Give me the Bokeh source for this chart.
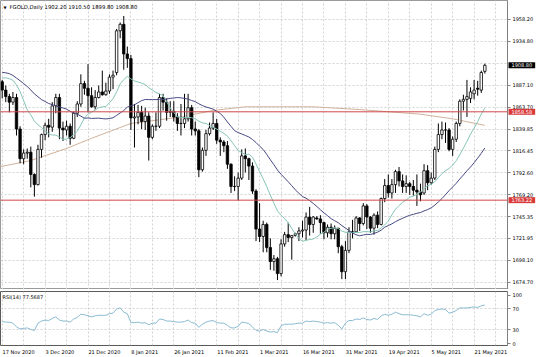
from bokeh.plotting import figure
from bokeh.models import Range1d, FixedTicker, Label, Span, ColumnDataSource, PrintfTickFormatter
from bokeh.layouts import column
from bokeh.embed import file_html
from bokeh.resources import INLINE

# ---------------- data ----------------
title_text = "FGOLD,Daily  1902.20 1910.50 1899.80 1908.80"
rsi_title = "RSI(14) 77.5687"

opens = [1891,1882,1875,1869,1874,1840,1808,1814,1815,1791,1780,1818,1834,1844,1842,1865,1874,1841,1839,1843,
         1830,1857,1867,1889,1884,1876,1864,1874,1880,1877,1881,1896,1901,1946,1953,1921,1916,1852,1853,1858,
         1848,1854,1831,1843,1843,1874,1869,1858,1859,1853,1846,1846,1851,1863,1840,1838,1796,1817,1835,1841,
         1846,1828,1826,1822,1802,1778,1778,1787,1811,1808,1800,1773,1732,1724,1737,1712,1697,1700,1684,1716,
         1726,1723,1725,1727,1730,1731,1745,1737,1744,1743,1739,1728,1734,1727,1733,1713,1686,1709,1729,1729,
         1744,1738,1757,1745,1733,1747,1737,1765,1779,1771,1780,1794,1784,1778,1781,1778,1774,1772,1771,1795,
         1782,1787,1818,1834,1839,1839,1818,1829,1846,1870,1872,1873,1878,1884,1882,1902.2]
highs = [1893,1887,1878,1880,1878,1843,1818,1819,1821,1792,1823,1835,1847,1851,1869,1878,1878,1848,1849,1846,
         1859,1870,1899,1892,1910,1885,1882,1887,1903,1890,1899,1903,1948,1955,1962,1929,1920,1867,1866,1865,
         1863,1858,1845,1858,1878,1878,1873,1870,1870,1857,1867,1878,1878,1866,1848,1840,1820,1839,1847,1858,
         1851,1831,1828,1827,1803,1789,1793,1818,1819,1809,1804,1775,1760,1741,1739,1722,1704,1702,1721,1729,
         1739,1725,1728,1734,1741,1750,1756,1746,1746,1747,1740,1737,1738,1736,1733,1715,1719,1734,1742,1746,
         1745,1760,1759,1746,1749,1751,1766,1786,1791,1786,1796,1799,1791,1790,1783,1785,1791,1781,1802,1801,
         1793,1821,1846,1848,1847,1841,1832,1848,1872,1877,1893,1885,1893,1892,1903,1910.5]
lows = [1873,1869,1858,1866,1833,1803,1802,1808,1777,1767,1779,1809,1828,1831,1837,1857,1829,1827,1833,1823,
        1829,1853,1864,1877,1858,1863,1861,1873,1876,1876,1878,1883,1898,1938,1904,1906,1839,1820,1845,1840,
        1839,1806,1829,1838,1841,1860,1849,1853,1848,1838,1833,1841,1848,1833,1833,1788,1794,1811,1833,1839,
        1824,1811,1815,1797,1771,1773,1763,1785,1793,1785,1770,1719,1718,1707,1707,1688,1687,1677,1681,1713,
        1718,1699,1724,1719,1723,1720,1725,1728,1742,1727,1721,1723,1721,1721,1706,1678,1678,1706,1722,1728,
        1730,1736,1732,1728,1726,1733,1736,1761,1766,1765,1771,1778,1771,1771,1769,1768,1757,1762,1769,1774,
        1780,1785,1815,1829,1825,1816,1811,1826,1843,1860,1853,1868,1872,1876,1879,1899.8]
closes = [1882,1875,1869,1874,1840,1808,1814,1815,1791,1780,1818,1834,1844,1842,1865,1874,1841,1839,1843,1830,
          1857,1867,1889,1884,1876,1864,1874,1880,1877,1881,1896,1898,1946,1953,1921,1916,1852,1853,1858,1848,
          1854,1831,1843,1843,1874,1869,1858,1859,1853,1846,1846,1851,1863,1840,1838,1796,1817,1835,1841,1846,
          1828,1826,1822,1802,1778,1778,1787,1811,1808,1800,1773,1732,1724,1737,1712,1697,1700,1684,1716,1726,
          1723,1725,1727,1730,1731,1745,1737,1745,1743,1739,1728,1734,1727,1733,1713,1686,1709,1729,1729,1744,
          1738,1757,1745,1733,1747,1737,1765,1779,1771,1780,1794,1784,1778,1781,1778,1774,1772,1769,1795,1782,
          1787,1818,1834,1839,1839,1818,1829,1846,1870,1872,1875,1880,1882,1883,1901,1908.8]
# closes of the bars just left of the visible window (needed by the moving averages)
warmup_closes = [1890,1896,1933,1925,1894,1905,1911,1903,1907,1909,1927,1907,1905,1904,1910,1880,1870,1882,
                 1898,1912,1906,1952,1954,1865,1880,1869,1876,1892,1891]

# long moving average (bar index, price)
ma200_idx = [-1, 8, 18, 25, 36, 50, 59, 68, 87, 100, 117, 126, 135]
ma200_val = [1799, 1806, 1819, 1830, 1846, 1853, 1860, 1864, 1864, 1861, 1856, 1851, 1844]

rsi_val = [46,45,45,43,36,32,33,34,31,29,43,47,49,48,52,55,49,47,47,45,
           51,54,60,59,57,55,57,58,58,58,61,62,70,72,64,61,44,44,45,43,
           44,40,43,43,51,50,47,47,46,45,45,46,49,44,43,35,41,45,47,48,
           44,43,43,39,34,34,37,45,44,42,36,29,28,31,28,26,27,25,38,41,
           41,41,42,43,43,47,46,47,46,45,43,44,43,44,39,32,43,48,48,51,
           50,53,50,49,52,50,57,60,58,60,64,61,59,59,59,58,57,55,61,58,
           60,67,69,70,69,62,64,67,72,72,72,73,74,73,76,77.57]

date_idx = [0, 12, 24, 36, 48, 60, 72, 84, 96, 108, 120, 132]
date_labels = ["17 Nov 2020", "3 Dec 2020", "21 Dec 2020", "8 Jan 2021", "26 Jan 2021", "11 Feb 2021",
               "1 Mar 2021", "16 Mar 2021", "31 Mar 2021", "19 Apr 2021", "5 May 2021", "21 May 2021"]

price_grid = [1958.20, 1934.80, 1911.10, 1887.10, 1863.70, 1839.85, 1816.45, 1792.60, 1769.20,
              1745.35, 1721.95, 1698.10, 1674.70]
price_labels = [v for v in price_grid if v != 1911.10]
level_lines = [1858.58, 1763.22]
bid_price = 1908.80

# ---------------- derived ----------------
n = len(closes)
bar_idx = list(range(n))
allc = warmup_closes + closes
W = len(warmup_closes)

def sma(period):
    out = []
    for i in range(n):
        j = i + W
        seg = allc[j - period + 1:j + 1]
        out.append(sum(seg) / period)
    return out

sma14 = sma(14)
sma30 = sma(30)

FONT = "DejaVu Sans"
FS = "5px"
X0, X1 = -0.476, 141.34
FW = 507
PXB = FW / (X1 - X0)

CW = {'0': .636, '1': .636, '2': .636, '3': .636, '4': .636, '5': .636, '6': .636, '7': .636, '8': .636,
      '9': .636, ' ': .318, 'N': .748, 'o': .612, 'v': .592, 'D': .770, 'e': .615, 'c': .550, 'J': .295,
      'a': .613, 'n': .634, 'F': .575, 'b': .635, 'M': .863, 'r': .411, 'A': .684, 'p': .635, 'y': .592}

def tw(s):
    return sum(CW.get(ch, 0.6) for ch in s) * 5.0

date_centers = [round(i + (0.4 + tw(s) / 2) / PXB, 3) for i, s in zip(date_idx, date_labels)]
grid_ticks = list(range(0, 142, 6))
GRID_COLOR = "#d2d2d2"

xr = Range1d(X0, X1)

# ---------------- price panel ----------------
p = figure(frame_width=FW, frame_height=289, x_range=xr, y_range=Range1d(1666.8, 1978.7),
           output_backend="svg", toolbar_location=None, x_axis_location=None, y_axis_location="right",
           min_border_left=0, min_border_right=0, min_border_top=0, min_border_bottom=0,
           background_fill_color="white", border_fill_color="white", outline_line_color="#9a9a9a")

p.xgrid.ticker = FixedTicker(ticks=grid_ticks)
p.ygrid.ticker = FixedTicker(ticks=price_grid)
for g in (p.xgrid[0], p.ygrid[0]):
    g.grid_line_color = GRID_COLOR
    g.grid_line_dash = "2 2"
    g.grid_line_width = 1

ax = p.yaxis[0]
ax.ticker = FixedTicker(ticks=price_labels)
ax.formatter = PrintfTickFormatter(format="%.2f")
ax.major_label_text_font = FONT
ax.major_label_text_font_size = FS
ax.major_label_text_color = "black"
ax.axis_line_color = "#808080"
ax.major_tick_out = 3
ax.major_tick_in = 0
ax.minor_tick_out = 0
ax.minor_tick_in = 0
ax.major_tick_line_color = "#808080"
ax.major_label_standoff = 2

src = ColumnDataSource(dict(
    x=bar_idx, o=opens, h=highs, l=lows, c=closes,
    top=[max(o, c) for o, c in zip(opens, closes)],
    bot=[min(o, c) for o, c in zip(opens, closes)],
    fill=["white" if c >= o else "black" for o, c in zip(opens, closes)],
))

p.line(ma200_idx, ma200_val, line_color="#cfb29c", line_width=1)
p.segment(x0='x', y0='h', x1='x', y1='l', source=src, line_color="black", line_width=1)
p.vbar(x='x', width=0.68, top='top', bottom='bot', fill_color='fill', line_color='black',
       line_width=0.8, source=src)
p.line(bar_idx, sma14, line_color="#86c5b8", line_width=1)
p.line(bar_idx, sma30, line_color="#474a82", line_width=1)

for lv in level_lines:
    p.add_layout(Span(location=lv, dimension="width", line_color="#d04848", line_width=1))

# price tags in the axis strip (side panel, so they are not clipped to the frame)
for val, bg in [(bid_price, "black"), (level_lines[0], "#d93b3b"), (level_lines[1], "#d93b3b")]:
    p.add_layout(Label(x=X1, y=val, x_offset=1, text="%.2f" % val, text_font=FONT, text_font_size=FS,
                       text_color="white", text_baseline="middle", text_align="left",
                       background_fill_color=bg, padding=(3, 1)), "right")

p.add_layout(Label(x=X0, y=1978.7, x_offset=3, y_offset=-4, text="\u25bc", text_font=FONT,
                   text_font_size="4px", text_color="black", text_baseline="top", text_align="left"))
p.add_layout(Label(x=X0, y=1978.7, x_offset=9, y_offset=-3, text=title_text, text_font=FONT,
                   text_font_size="5.3px", text_color="black", text_baseline="top", text_align="left"))

# ---------------- RSI panel ----------------
r = figure(frame_width=FW, frame_height=54, x_range=xr, y_range=Range1d(0.48, 103.3),
           output_backend="svg", toolbar_location=None, y_axis_location="right",
           min_border_left=0, min_border_right=0, min_border_top=2, min_border_bottom=0,
           background_fill_color="white", border_fill_color="white", outline_line_color="#5a5a5a")

r.xgrid.ticker = FixedTicker(ticks=grid_ticks)
r.ygrid.ticker = FixedTicker(ticks=[30, 70])
for g in (r.xgrid[0], r.ygrid[0]):
    g.grid_line_color = GRID_COLOR
    g.grid_line_dash = "2 2"
    g.grid_line_width = 1

r.line(bar_idx, rsi_val, line_color="#8abbd3", line_width=1)

xa = r.xaxis[0]
xa.ticker = FixedTicker(ticks=date_centers)
xa.major_label_overrides = {c: s for c, s in zip(date_centers, date_labels)}
xa.axis_line_color = None
xa.major_tick_out = 0
xa.major_tick_in = 0
xa.minor_tick_out = 0
xa.minor_tick_in = 0
xa.major_label_standoff = 3
xa.major_label_text_font = FONT
xa.major_label_text_font_size = FS
xa.major_label_text_color = "black"

ya = r.yaxis[0]
ya.ticker = FixedTicker(ticks=[4, 30, 70, 96])
ya.major_label_overrides = {4: "0", 30: "30", 70: "70", 96: "100"}
ya.major_label_text_font = FONT
ya.major_label_text_font_size = FS
ya.major_label_text_color = "black"
ya.axis_line_color = "#808080"
ya.major_tick_out = 3
ya.major_tick_in = 0
ya.minor_tick_out = 0
ya.minor_tick_in = 0
ya.major_tick_line_color = "#808080"
ya.major_label_standoff = 2

r.add_layout(Label(x=X0, y=103.3, x_offset=2, y_offset=-2, text=rsi_title, text_font=FONT,
                   text_font_size="5px", text_color="black", text_baseline="top", text_align="left"))

layout = column(p, r, spacing=0)
open("out.html", "w").write(file_html(layout, INLINE))
